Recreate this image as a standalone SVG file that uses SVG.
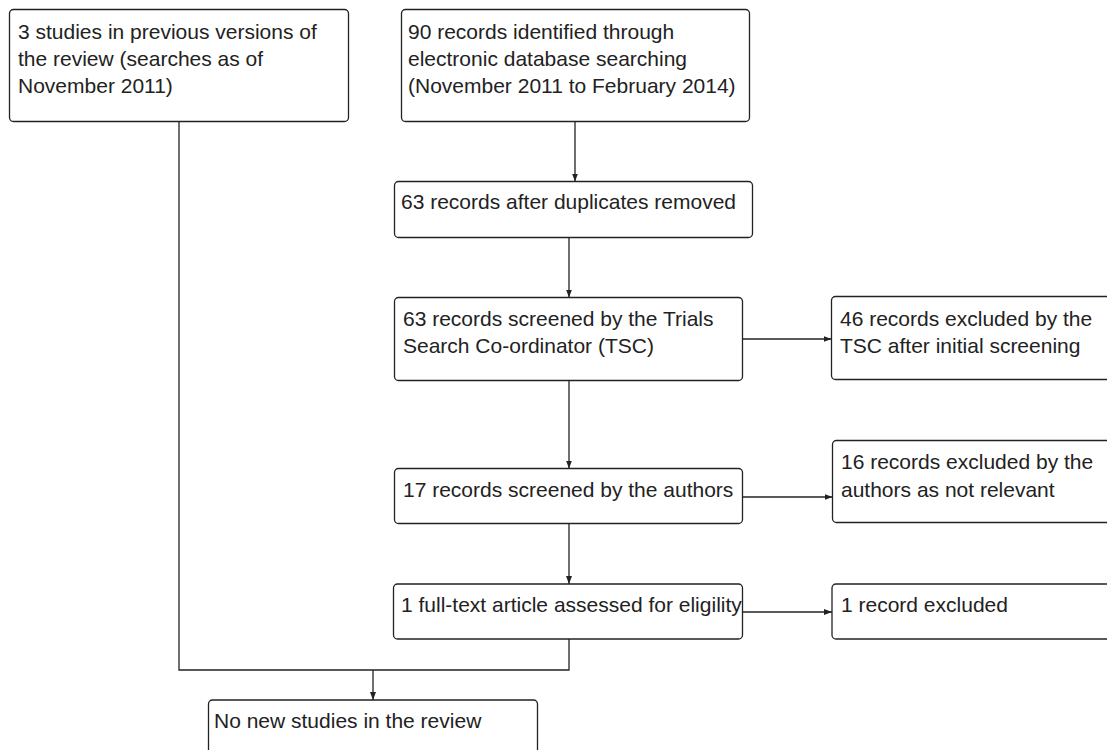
<svg xmlns="http://www.w3.org/2000/svg" width="1107" height="750" viewBox="0 0 1107 750">
<style>
.box{fill:#fff;stroke:#222;stroke-width:1.3}
.t{font-family:"Liberation Sans",Arial,sans-serif;font-size:21px;fill:#222}
.c{fill:none;stroke:#222;stroke-width:1.3}
</style>
<defs>
<marker id="ah" markerUnits="userSpaceOnUse" markerWidth="8" markerHeight="6" refX="8" refY="3" orient="auto">
<path d="M0,0 L8,3 L0,6 z" fill="#222"/>
</marker>
</defs>
<rect width="1107" height="750" fill="#fff"/>
<g id="connectors">
<path class="c" d="M575 121.5 V181.5" marker-end="url(#ah)"/>
<path class="c" d="M569 237.5 V297.5" marker-end="url(#ah)"/>
<path class="c" d="M569 380 V468.5" marker-end="url(#ah)"/>
<path class="c" d="M569 523.5 V584" marker-end="url(#ah)"/>
<path class="c" d="M742.5 339 H831.5" marker-end="url(#ah)"/>
<path class="c" d="M743 497 H832.5" marker-end="url(#ah)"/>
<path class="c" d="M743 612 H832" marker-end="url(#ah)"/>
<path class="c" d="M179 121.5 V670 H569 V639"/>
<path class="c" d="M373 670 V700" marker-end="url(#ah)"/>
</g>
<g id="n1">
<rect class="box" x="9.5" y="9.5" width="339" height="112" rx="4"/>
<text class="t" x="18" y="39">3 studies in previous versions of</text>
<text class="t" x="18" y="66">the review (searches as of</text>
<text class="t" x="18" y="93">November 2011)</text>
</g>
<g id="n2">
<rect class="box" x="401.5" y="9.5" width="348" height="112" rx="4"/>
<text class="t" x="408" y="39">90 records identified through</text>
<text class="t" x="408" y="66">electronic database searching</text>
<text class="t" x="408" y="93">(November 2011 to February 2014)</text>
</g>
<g id="n3">
<rect class="box" x="394.5" y="181.5" width="358" height="56" rx="4"/>
<text class="t" x="401" y="209">63 records after duplicates removed</text>
</g>
<g id="n4">
<rect class="box" x="394.5" y="297.5" width="348" height="83" rx="4"/>
<text class="t" x="403" y="326">63 records screened by the Trials</text>
<text class="t" x="403" y="353">Search Co-ordinator (TSC)</text>
</g>
<g id="n5">
<rect class="box" x="394.5" y="468.5" width="348" height="55" rx="4"/>
<text class="t" x="403" y="497">17 records screened by the authors</text>
</g>
<g id="n6">
<rect class="box" x="393.5" y="584" width="349" height="55" rx="4"/>
<text class="t" x="401" y="612">1 full-text article assessed for eligility</text>
</g>
<g id="e1">
<rect class="box" x="831.5" y="296.5" width="300" height="83" rx="4"/>
<text class="t" x="840" y="326">46 records excluded by the</text>
<text class="t" x="840" y="353">TSC after initial screening</text>
</g>
<g id="e2">
<rect class="box" x="832.5" y="440.5" width="300" height="82" rx="4"/>
<text class="t" x="841" y="469">16 records excluded by the</text>
<text class="t" x="841" y="497">authors as not relevant</text>
</g>
<g id="e3">
<rect class="box" x="832" y="584" width="300" height="55" rx="4"/>
<text class="t" x="841" y="612">1 record excluded</text>
</g>
<g id="n7">
<rect class="box" x="208.5" y="700" width="329" height="70" rx="4"/>
<text class="t" x="214" y="728">No new studies in the review</text>
</g>
</svg>
